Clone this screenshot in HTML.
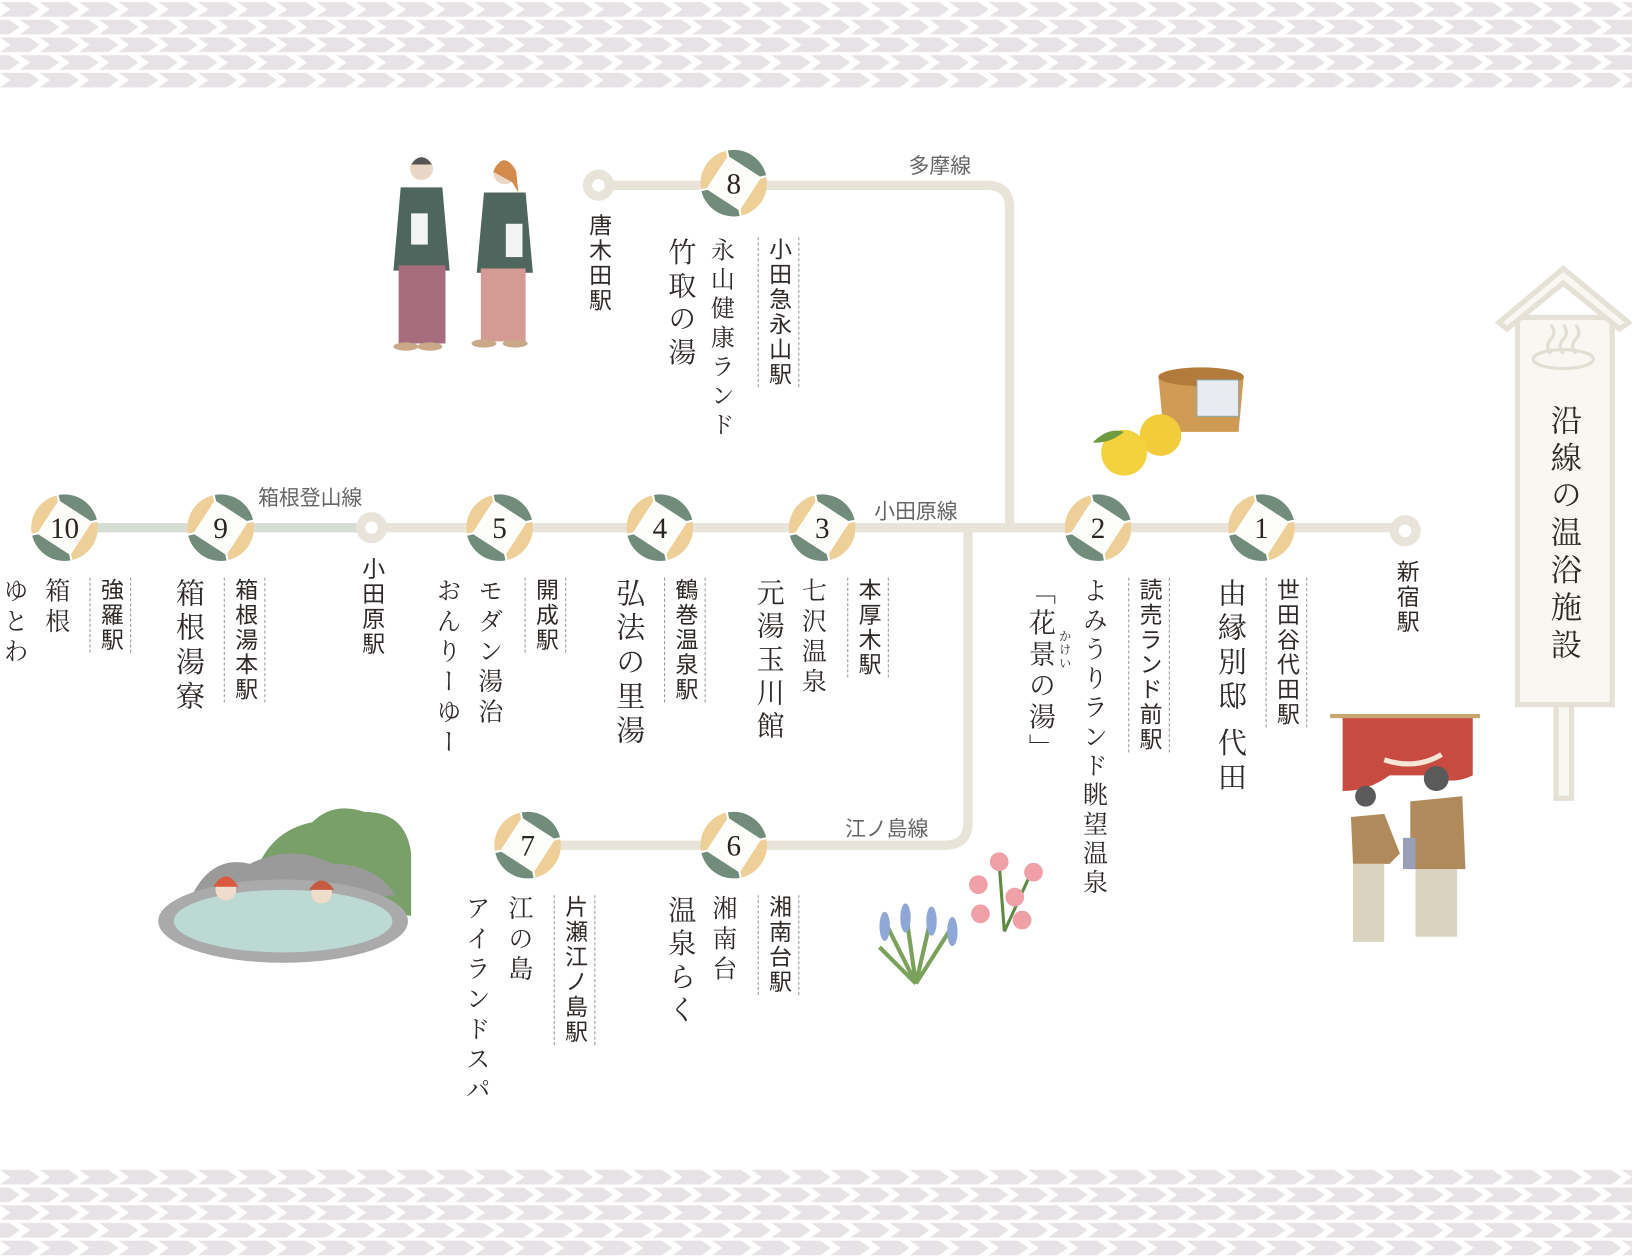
<!DOCTYPE html>
<html><head><meta charset="utf-8">
<style>
html,body{margin:0;padding:0;background:#fff;width:1632px;height:1258px;overflow:hidden}
#w{position:absolute;left:0;top:0;width:1568px;height:1208px;transform:scale(1.0408);transform-origin:0 0}
svg{position:absolute;left:0;top:0}
.v{position:absolute;writing-mode:vertical-rl;color:#2f2a28;white-space:nowrap;line-height:1}
.s{font-family:"Liberation Sans","Noto Sans CJK JP",sans-serif;font-size:22px;letter-spacing:2px}
.d{border-left:1px dashed #999;border-right:1px dashed #999;padding:0 8px}
.m{font-family:"Liberation Serif","Noto Serif CJK SC",serif;font-size:25px;letter-spacing:5px}
.l{position:absolute;font-family:"Liberation Sans","Noto Sans CJK JP",sans-serif;font-size:20px;color:#666;white-space:nowrap}
</style></head><body><div id="w">
<svg width="1568" height="1208" viewBox="0 0 1568 1208">
<defs>
<pattern id="ya" width="38" height="34" patternUnits="userSpaceOnUse">
<rect width="38" height="34" fill="#fff"/>
<polygon points="0,2 28,2 38,9 10,9" fill="#e7e2e5"/>
<polygon points="10,9 38,9 28,16 0,16" fill="#e7e2e5"/>
<polygon points="19,19 47,19 57,26 29,26" fill="#e7e2e5"/>
<polygon points="-19,19 9,19 19,26 -9,26" fill="#e7e2e5"/>
<polygon points="29,26 57,26 47,33 19,33" fill="#e7e2e5"/>
<polygon points="-9,26 19,26 9,33 -19,33" fill="#e7e2e5"/>
</pattern>
<g id="st">
<circle r="32" fill="#fff"/>
<g transform="rotate(-12)">
<path d="M0,0 L0,-32 A32,32 0 0 0 -32,0 Z" fill="#efcf98"/>
<path d="M0,0 L32,0 A32,32 0 0 0 0,-32 Z" fill="#728c7c"/>
<path d="M0,0 L0,32 A32,32 0 0 0 32,0 Z" fill="#efcf98"/>
<path d="M0,0 L-32,0 A32,32 0 0 0 0,32 Z" fill="#728c7c"/>
<line x1="0" y1="-33" x2="0" y2="33" stroke="#fff" stroke-width="2"/>
<line x1="-33" y1="0" x2="33" y2="0" stroke="#fff" stroke-width="2"/>
</g>
<polygon points="0,-27 27,0 0,27 -27,0" fill="#fdfdfb" transform="rotate(-12)"/>
</g>
</defs>
<rect x="0" y="0" width="1568" height="86" fill="url(#ya)"/>
<rect x="0" y="1122" width="1568" height="86" fill="url(#ya)"/>
<g fill="none" stroke-width="9">
<line x1="62" y1="507" x2="357" y2="507" stroke="#d6ddd5"/>
<line x1="357" y1="507" x2="1350" y2="507" stroke="#e8e4da"/>
<path d="M970,507 V200 Q970,178 948,178 H575" stroke="#e8e4da"/>
<path d="M930,507 V790 Q930,812 908,812 H507" stroke="#e8e4da"/>
</g>
<g fill="#e8e4da"><circle cx="575" cy="178" r="15"/><circle cx="357" cy="507" r="15"/><circle cx="1350" cy="510" r="15"/></g>
<g fill="#fff"><circle cx="575" cy="178" r="6"/><circle cx="357" cy="507" r="6"/><circle cx="1350" cy="510" r="6"/></g>
<g font-family="Liberation Serif,serif" font-size="28" fill="#2a2522" text-anchor="middle">
<use href="#st" x="705" y="176"/><text x="705" y="186">8</text>
<use href="#st" x="62" y="507"/><text x="62" y="517">10</text>
<use href="#st" x="212" y="507"/><text x="212" y="517">9</text>
<use href="#st" x="480" y="507"/><text x="480" y="517">5</text>
<use href="#st" x="634" y="507"/><text x="634" y="517">4</text>
<use href="#st" x="790" y="507"/><text x="790" y="517">3</text>
<use href="#st" x="1055" y="507"/><text x="1055" y="517">2</text>
<use href="#st" x="1212" y="507"/><text x="1212" y="517">1</text>
<use href="#st" x="507" y="812"/><text x="507" y="822">7</text>
<use href="#st" x="705" y="812"/><text x="705" y="822">6</text>
</g>
<g fill="#f9f7f1" stroke="#e6e1d6" stroke-width="5">
<rect x="1495" y="670" width="15" height="97"/>
<rect x="1458" y="305" width="91" height="372"/>
<polygon points="1502,258 1565,310 1556,316 1502,272 1448,316 1440,310"/>
</g>
<g fill="none" stroke="#e3ded3" stroke-width="3"><ellipse cx="1502" cy="345" rx="29" ry="9"/><path d="M1490,340 q-6,-8 0,-14 q6,-6 0,-14 M1502,340 q-6,-8 0,-14 q6,-6 0,-14 M1514,340 q-6,-8 0,-14 q6,-6 0,-14"/></g>
<g>
<circle cx="405" cy="162" r="11" fill="#e9d6c4"/><path d="M395,158 q10,-14 20,0" fill="#555"/>
<path d="M385,180 L425,180 L432,260 L378,260Z" fill="#4f665e"/>
<path d="M383,255 L428,255 L428,330 L383,330Z" fill="#a86c7f"/>
<circle cx="485" cy="166" r="11" fill="#e9d6c4"/><path d="M474,165 q10,-22 22,0 l2,20 l-6,-10Z" fill="#d48a4a"/>
<path d="M465,185 L505,185 L512,262 L458,262Z" fill="#4f665e"/>
<path d="M462,258 L505,258 L505,328 L462,328Z" fill="#d49a93"/>
<rect x="395" y="205" width="16" height="30" fill="#f4f4f4"/><rect x="486" y="215" width="16" height="32" fill="#f4f4f4"/>
<ellipse cx="390" cy="333" rx="12" ry="4" fill="#c9a98a"/><ellipse cx="413" cy="333" rx="12" ry="4" fill="#c9a98a"/>
<ellipse cx="465" cy="330" rx="12" ry="4" fill="#c9a98a"/><ellipse cx="495" cy="330" rx="12" ry="4" fill="#c9a98a"/>
</g>
<g><path d="M1113,362 L1195,362 L1190,415 L1118,415Z" fill="#cf9b54"/><ellipse cx="1154" cy="362" rx="41" ry="9" fill="#b37b3b"/>
<rect x="1150" y="365" width="40" height="35" fill="#e8ecf2" stroke="#8aa" stroke-width="1"/>
<circle cx="1115" cy="418" r="20" fill="#f2cc3a"/><circle cx="1080" cy="435" r="22" fill="#f4d23e"/>
<path d="M1050,425 q15,-15 30,-10 q-15,12 -30,10Z" fill="#6f9a3f"/></g>
<g>
<path d="M240,860 q10,-60 60,-70 q20,-20 50,-10 q40,0 45,40 l0,60Z" fill="#7aa06a"/>
<path d="M180,870 q20,-50 60,-40 q40,-20 80,0 q40,0 60,30Z" fill="#9a9a9a"/>
<ellipse cx="272" cy="885" rx="120" ry="40" fill="#aaa"/>
<ellipse cx="272" cy="885" rx="105" ry="30" fill="#bcd9d4"/>
<circle cx="217" cy="855" r="10" fill="#f0dccc"/><circle cx="309" cy="858" r="10" fill="#f0dccc"/>
<path d="M205,852 q12,-20 24,0Z" fill="#d85a40"/><path d="M297,855 q12,-18 24,0Z" fill="#c65a40"/>
</g>
<g>
<path d="M880,945 L850,885 M880,945 L870,875 M880,945 L895,880 M880,945 L915,890 M880,945 L845,910" stroke="#7aa25a" stroke-width="4"/>
<g fill="#8fa7d6"><ellipse cx="850" cy="890" rx="5" ry="14"/><ellipse cx="870" cy="882" rx="5" ry="14"/><ellipse cx="895" cy="885" rx="5" ry="14"/><ellipse cx="915" cy="895" rx="5" ry="14"/></g>
<path d="M965,895 L960,830 M965,895 L990,840" stroke="#5f8a42" stroke-width="3"/>
<g fill="#f0a1a8"><circle cx="960" cy="828" r="9"/><circle cx="993" cy="838" r="9"/><circle cx="940" cy="850" r="9"/><circle cx="975" cy="862" r="9"/><circle cx="942" cy="878" r="9"/><circle cx="982" cy="884" r="9"/></g>
</g>
<g>
<rect x="1278" y="686" width="144" height="4" fill="#c8a56e"/>
<path d="M1290,690 H1415 V745 q-20,10 -40,0 L1335,745 q-20,15 -45,15Z" fill="#c84a40"/>
<path d="M1330,730 q30,10 55,-5" stroke="#f5e6d6" stroke-width="5" fill="none"/>
<circle cx="1312" cy="765" r="10" fill="#5a5a5a"/>
<path d="M1298,785 L1330,782 L1345,820 L1335,830 L1300,830Z" fill="#b08a5a"/>
<rect x="1300" y="830" width="30" height="75" fill="#d9d3c0"/>
<circle cx="1380" cy="748" r="12" fill="#5a5a5a"/>
<path d="M1355,770 L1405,765 L1408,835 L1355,835Z" fill="#b08a5a"/>
<rect x="1360" y="835" width="40" height="65" fill="#d9d3c0"/>
<rect x="1348" y="805" width="12" height="30" fill="#9a9fb8"/>
</g>
</svg>

<div class="l" style="left:873px;top:143px">多摩線</div>
<div class="l" style="left:840px;top:475px">小田原線</div>
<div class="l" style="left:248px;top:462px">箱根登山線</div>
<div class="l" style="left:812px;top:780px">江ノ島線</div>

<div class="v s" style="left:564px;top:205px">唐木田駅</div>
<div class="v s d" style="left:728px;top:228px">小田急永山駅</div>
<div class="v m" style="left:681px;top:228px;font-size:23px">永山健康ランド</div>
<div class="v m" style="left:639px;top:228px;font-size:27px">竹取の湯</div>

<div class="v s d" style="left:814px;top:555px">本厚木駅</div>
<div class="v m" style="left:767px;top:555px;font-size:24px">七沢温泉</div>
<div class="v m" style="left:724px;top:555px;font-size:27px">元湯玉川館</div>
<div class="v s d" style="left:638px;top:555px">鶴巻温泉駅</div>
<div class="v m" style="left:589px;top:555px;font-size:28px">弘法の里湯</div>
<div class="v s d" style="left:504px;top:555px">開成駅</div>
<div class="v m" style="left:456px;top:555px;font-size:24px">モダン湯治</div>
<div class="v m" style="left:416px;top:555px;font-size:24px">おんりーゆー</div>
<div class="v s" style="left:346px;top:535px">小田原駅</div>
<div class="v s d" style="left:215px;top:555px">箱根湯本駅</div>
<div class="v m" style="left:166px;top:555px;font-size:28px">箱根湯寮</div>
<div class="v s d" style="left:86px;top:555px">強羅駅</div>
<div class="v m" style="left:40px;top:555px;font-size:24px">箱根</div>
<div class="v m" style="left:0px;top:555px;font-size:24px">ゆとわ</div>

<div class="v s" style="left:1340px;top:538px">新宿駅</div>
<div class="v s d" style="left:1216px;top:555px">世田谷代田駅</div>
<div class="v m" style="left:1167px;top:555px;font-size:28px">由縁別邸&nbsp;代田</div>
<div class="v s d" style="left:1084px;top:555px">読売ランド前駅</div>
<div class="v m" style="left:1037px;top:555px;font-size:24px;letter-spacing:4px">よみうりランド眺望温泉</div>
<div class="v m" style="left:986px;top:555px;font-size:26px;letter-spacing:4px">「花景の湯」</div>
<div class="v m" style="left:1017px;top:605px;font-size:12px;letter-spacing:1px">かけい</div>

<div class="v s d" style="left:728px;top:860px">湘南台駅</div>
<div class="v m" style="left:681px;top:860px;font-size:24px">湘南台</div>
<div class="v m" style="left:639px;top:860px;font-size:27px">温泉らく</div>
<div class="v s d" style="left:532px;top:860px">片瀬江ノ島駅</div>
<div class="v m" style="left:485px;top:860px;font-size:24px">江の島</div>
<div class="v m" style="left:444px;top:860px;font-size:24px">アイランドスパ</div>

<div class="v m" style="left:1486px;top:388px;font-size:30px;letter-spacing:6px">沿線の温浴施設</div>
</div></body></html>
